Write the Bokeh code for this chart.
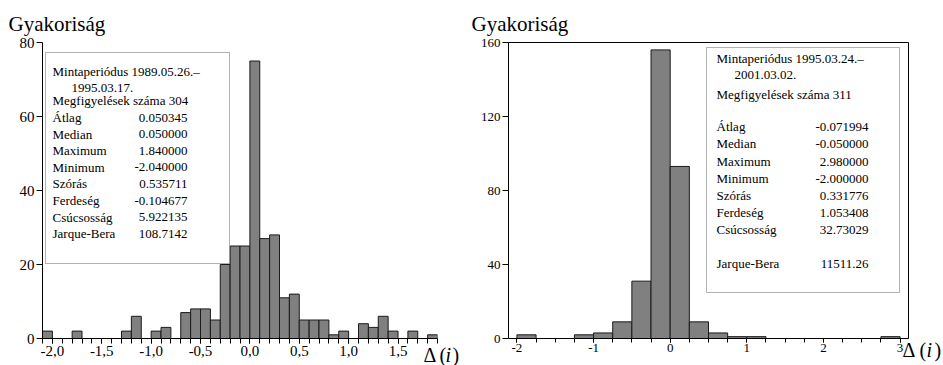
from bokeh.plotting import figure
from bokeh.models import Range1d, FixedTicker, CustomJSTickFormatter, Label, BoxAnnotation
from bokeh.layouts import row
from bokeh.embed import file_html
from bokeh.resources import INLINE

FONT = "Liberation Serif"

# ---------------- data ----------------
# left histogram: bins of width 0.1 starting at -2.1
left_bin_start = -2.1
left_bin_width = 0.1
left_counts = [2, 0, 0, 2, 0, 0, 0, 0, 2, 6,
               0, 2, 3, 0, 7, 8, 8, 5, 20, 25,
               25, 75, 27, 28, 11, 12, 5, 5, 5, 1,
               2, 0, 4, 3, 6, 2, 0, 2, 0, 1]
left_xticks = [-2.0, -1.5, -1.0, -0.5, 0.0, 0.5, 1.0, 1.5]
left_yticks = [0, 20, 40, 60, 80]

# right histogram: bins of width 0.25 starting at -2
right_bin_start = -2.0
right_bin_width = 0.25
right_counts = [2, 0, 0, 2, 3, 9, 31, 156, 93, 9,
                3, 1, 1, 0, 0, 0, 0, 0, 0, 1]
right_xticks = [-2, -1, 0, 1, 2, 3]
right_yticks = [0, 40, 80, 120, 160]

axis_title = "Gyakoriság"
stat_names = ["Átlag", "Median", "Maximum", "Minimum", "Szórás",
              "Ferdeség", "Csúcsosság", "Jarque-Bera"]
left_period = ["Mintaperiódus 1989.05.26.–", "1995.03.17."]
left_obs = "Megfigyelések száma 304"
left_stat_values = ["0.050345", "0.050000", "1.840000", "-2.040000",
                    "0.535711", "-0.104677", "5.922135", "108.7142"]
right_period = ["Mintaperiódus 1995.03.24.–", "2001.03.02."]
right_obs = "Megfigyelések száma 311"
right_stat_values = ["-0.071994", "-0.050000", "2.980000", "-2.000000",
                     "0.331776", "1.053408", "32.73029", "11511.26"]


class Panel:
    """Figure with a known frame (in the figure's own pixels)."""

    def __init__(self, width, mbl, mbr, mbb, xr, yr, outline, tick_size):
        self.width = width
        self.fl, self.fr = mbl, width - mbr
        self.ft, self.fb = 42, 365 - mbb
        self.xr, self.yr = xr, yr
        p = figure(width=width, height=365, x_range=xr, y_range=yr,
                   output_backend="svg", toolbar_location=None,
                   min_border_left=mbl, min_border_right=mbr,
                   min_border_top=42, min_border_bottom=mbb)
        p.grid.visible = False
        p.outline_line_color = "black" if outline else None
        p.background_fill_color = "white"
        p.border_fill_color = "white"
        for ax in (p.xaxis[0], p.yaxis[0]):
            ax.axis_line_color = "black"
            ax.major_tick_line_color = "black"
            ax.minor_tick_line_color = "black"
            ax.major_tick_in = 0
            ax.major_tick_out = 5
            ax.minor_tick_in = 0
            ax.minor_tick_out = 5
            ax.major_label_text_font = FONT
            ax.major_label_text_font_size = tick_size
            ax.major_label_text_color = "black"
            ax.major_label_standoff = 2
        p.yaxis[0].minor_tick_line_color = None
        p.yaxis[0].major_tick_out = 6
        self.p = p

    def hist(self, start, width, counts):
        lo = [start + i * width for i in range(len(counts))]
        hi = [start + (i + 1) * width for i in range(len(counts))]
        self.p.quad(left=lo, right=hi, bottom=0, top=counts,
                    fill_color="#808080", line_color="#1a1a1a", line_width=1)

    def box(self, x0, y0, x1, y1):
        self.p.add_layout(BoxAnnotation(
            left=x0 - self.fl, right=x1 - self.fl,
            top=self.fb - y0, bottom=self.fb - y1,
            left_units="screen", right_units="screen",
            top_units="screen", bottom_units="screen",
            fill_color="white", fill_alpha=1.0,
            line_color="black", line_width=1))

    def text(self, x, y, s, size="13px", align="left"):
        # text inside the frame, positioned in frame pixels
        self.p.add_layout(Label(
            x=x - self.fl, y=self.fb - y, x_units="screen", y_units="screen",
            text=s, text_font=FONT, text_font_size=size, text_align=align,
            text_baseline="middle", text_color="black"))

    def outer_text(self, x, y, s, side, size="20px", style="normal"):
        # text outside the frame: kept in a side panel so it is not clipped,
        # positioned through the frame's scales
        xs = self.xr.start + (x - self.fl) * (self.xr.end - self.xr.start) / (self.fr - self.fl)
        ys = self.yr.start + (self.fb - y) * (self.yr.end - self.yr.start) / (self.fb - self.ft)
        self.p.add_layout(Label(
            x=xs, y=ys, text=s, text_font=FONT, text_font_size=size,
            text_font_style=style, text_align="left",
            text_baseline="alphabetic", text_color="black"), side)


# ---------------- left chart ----------------
L = Panel(470, 42, 33, 27, Range1d(-2.1, 1.9), Range1d(0, 80), False, "15px")
L.hist(left_bin_start, left_bin_width, left_counts)
L.p.xaxis[0].ticker = FixedTicker(
    ticks=left_xticks,
    minor_ticks=[round(left_bin_start + i * left_bin_width, 2)
                 for i in range(len(left_counts) + 1)])
L.p.xaxis[0].formatter = CustomJSTickFormatter(
    code="return tick.toFixed(1).replace('.', ',');")
L.p.yaxis[0].ticker = FixedTicker(ticks=left_yticks)
L.box(45, 52, 229, 263)
L.text(52, 71, left_period[0])
L.text(71, 87, left_period[1])
L.text(52, 100, left_obs)
for i, (n, v) in enumerate(zip(stat_names, left_stat_values)):
    yy = 117 + i * 16.6
    L.text(52, yy, n)
    L.text(187, yy, v, align="right")
L.outer_text(8, 23, axis_title, "above", size="21px")
L.outer_text(423, 354, "Δ", "right")
L.outer_text(439, 354, "(", "right")
L.outer_text(445, 354, "i", "left", style="italic")
L.outer_text(452, 354, ")", "left")

# ---------------- right chart ----------------
OX = 470
R = Panel(473, 38, 35, 23, Range1d(-2.11, 3.11), Range1d(0, 160), True, "13px")
R.hist(right_bin_start, right_bin_width, right_counts)
R.p.xaxis[0].ticker = FixedTicker(
    ticks=right_xticks,
    minor_ticks=[right_bin_start + i * right_bin_width
                 for i in range(len(right_counts) + 1)])
R.p.xaxis[0].formatter = CustomJSTickFormatter(code="return tick.toFixed(0);")
R.p.yaxis[0].ticker = FixedTicker(ticks=right_yticks)
R.p.xaxis[0].major_tick_out = 4
R.p.xaxis[0].minor_tick_out = 4
R.p.xaxis[0].major_label_standoff = 1
R.box(706 - OX, 51, 899 - OX, 296)
R.text(716 - OX, 62, right_period[0])
R.text(734 - OX, 78, right_period[1])
R.text(716 - OX, 98, right_obs)
ry = [130, 147, 165, 182, 199, 216, 233, 267]
for n, v, yy in zip(stat_names, right_stat_values, ry):
    R.text(716 - OX, yy, n)
    R.text(868 - OX, yy, v, align="right")
R.outer_text(471 - OX, 23, axis_title, "above", size="21px")
R.outer_text(902 - OX, 354, "Δ", "right")
R.outer_text(919 - OX, 354, "(", "right")
R.outer_text(926 - OX, 354, "i", "left", style="italic")
R.outer_text(934 - OX, 354, ")", "right")

layout = row(L.p, R.p)
open("out.html", "w").write(file_html(layout, INLINE))
